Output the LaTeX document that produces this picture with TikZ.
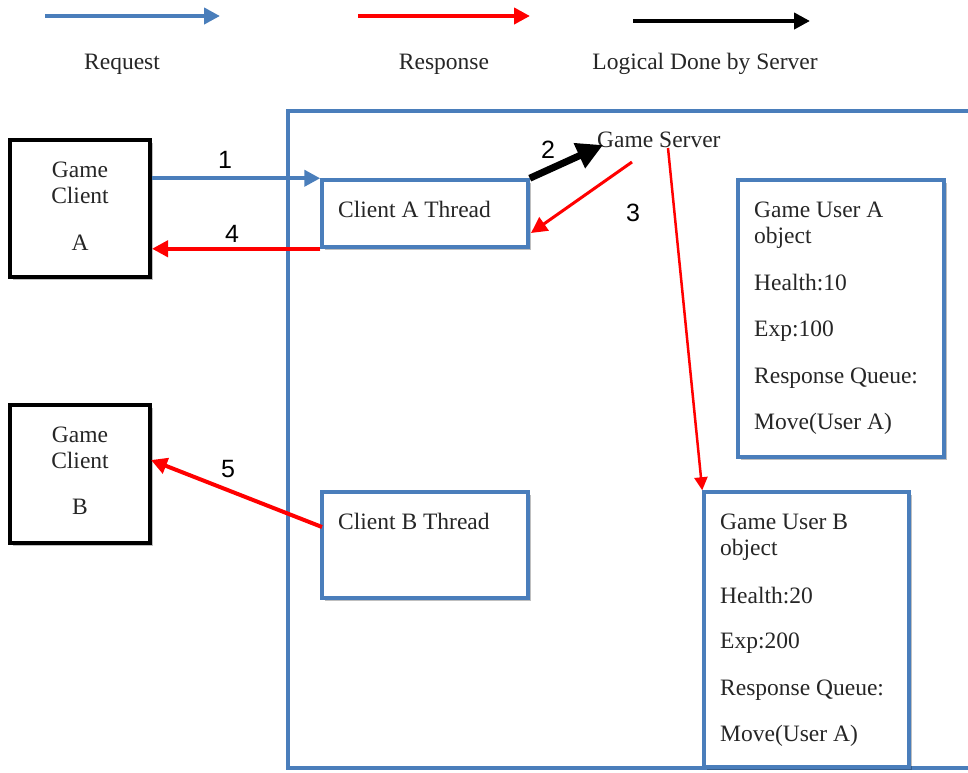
\documentclass[tikz,border=0pt]{standalone}
\usepackage{fontspec}
\setmainfont{Liberation Serif}
\newfontfamily\numfont{Liberation Sans}
\usetikzlibrary{arrows.meta,shadows}
\definecolor{reqblue}{HTML}{4A7EBB}
\definecolor{resred}{HTML}{FF0000}
\definecolor{txtgray}{HTML}{262626}
\begin{document}
\begin{tikzpicture}[x=1pt,y=-1pt,
  txt/.style={font=\fontsize{23.5}{27}\selectfont, inner sep=0pt, anchor=base west, text=txtgray},
  ctxt/.style={txt, anchor=base},
  num/.style={font=\numfont\fontsize{25}{28}\selectfont, inner sep=0pt, text=black},
  shad/.style={drop shadow={shadow xshift=3pt, shadow yshift=-3pt, opacity=0.25, fill=black}},
  clientbox/.style={draw=black, line width=4pt, fill=white, shad, inner sep=0pt},
  bluebox/.style={draw=reqblue, line width=3.5pt, fill=white, shad, inner sep=0pt},
  req/.style={reqblue, line width=4pt, -{Triangle[length=16pt,width=16pt]}},
  res/.style={resred, line width=4pt, -{Triangle[length=16pt,width=16pt]}},
  logic/.style={black, line width=4.5pt, -{Triangle[length=16pt,width=16pt]}}]
\useasboundingbox (0,0) rectangle (968,772);
\fill[white] (0,0) rectangle (968,772);

% legend
\coordinate (l1a) at (45,16);  \coordinate (l1b) at (220,16);
\coordinate (l2a) at (358,16); \coordinate (l2b) at (530,16);
\coordinate (l3a) at (633,21); \coordinate (l3b) at (810,21);
\draw[req] (l1a) -- (l1b);
\draw[res] (l2a) -- (l2b);
\draw[logic] (l3a) -- (l3b);
\node[ctxt] (lreq) at (122,69) {Request};
\node[ctxt] (lres) at (444,69) {Response};
\node[ctxt] (llog) at (705,69) {Logical Done by Server};

% server container
\draw[reqblue, line width=3.5pt] (980,111) -- (288,111) -- (288,768) -- (980,768);
\node[txt] (gs) at (597,147) {Game Server};

% clients
\node[clientbox, minimum width=140pt, minimum height=137pt] (ca) at (80,208.5) {};
\node[ctxt] (ca1) at (80,177) {Game};
\node[ctxt] (ca2) at (80,203) {Client};
\node[ctxt] (ca3) at (80,250) {A};
\node[clientbox, minimum width=140pt, minimum height=138pt] (cb) at (80,474) {};
\node[ctxt] (cb1) at (80,442) {Game};
\node[ctxt] (cb2) at (80,468) {Client};
\node[ctxt] (cb3) at (80,514) {B};

% threads
\node[bluebox, minimum width=206pt, minimum height=67pt] (ta) at (425,213.5) {};
\node[txt] (tat) at (338,217) {Client A Thread};
\node[bluebox, minimum width=206pt, minimum height=106pt] (tb) at (425,545) {};
\node[txt] (tbt) at (338,529) {Client B Thread};

% user objects
\node[bluebox, minimum width=206pt, minimum height=277pt] (ua) at (841,318.5) {};
\foreach \t/\yy [count=\i] in {Game User A/217, object/243, Health:10/290, Exp:100/336, Response Queue:/383, Move(User A)/429}
  \node[txt] (ua\i) at (754,\yy) {\t};
\node[bluebox, minimum width=205pt, minimum height=275pt] (ub) at (806.5,629.5) {};
\foreach \t/\yy [count=\i] in {Game User B/529, object/555, Health:20/603, Exp:200/648, Response Queue:/695, Move(User A)/741}
  \node[txt] (ub\i) at (720,\yy) {\t};

% connectors
\draw[req] (ca.east |- ta.north) -- (ta.north west);
\node[num] (n1) at (225,160) {1};
\draw[res] (ta.south west) -- (ca.east |- ta.south west);
\node[num] (n4) at (232,234) {4};
\coordinate (g2) at (603,145);
\draw[black, line width=7pt, -{Triangle[length=26pt,width=26pt]}] (ta.north east) -- (g2);
\node[num] (n2) at (548,150) {2};
\coordinate (g3) at (632,162);
\coordinate (t3) at (531,233);
\draw[res, line width=3pt] (g3) -- (t3);
\node[num] (n3) at (633,213) {3};
\coordinate (g4) at (668,148);
\draw[resred, line width=2.5pt, -{Triangle[length=13pt,width=13pt]}] (g4) -- (ub.north west);
\coordinate (b5) at (322,527);
\coordinate (c5) at (151,460);
\draw[res] (b5) -- (c5);
\node[num] (n5) at (228,469) {5};
\end{tikzpicture}
\end{document}
